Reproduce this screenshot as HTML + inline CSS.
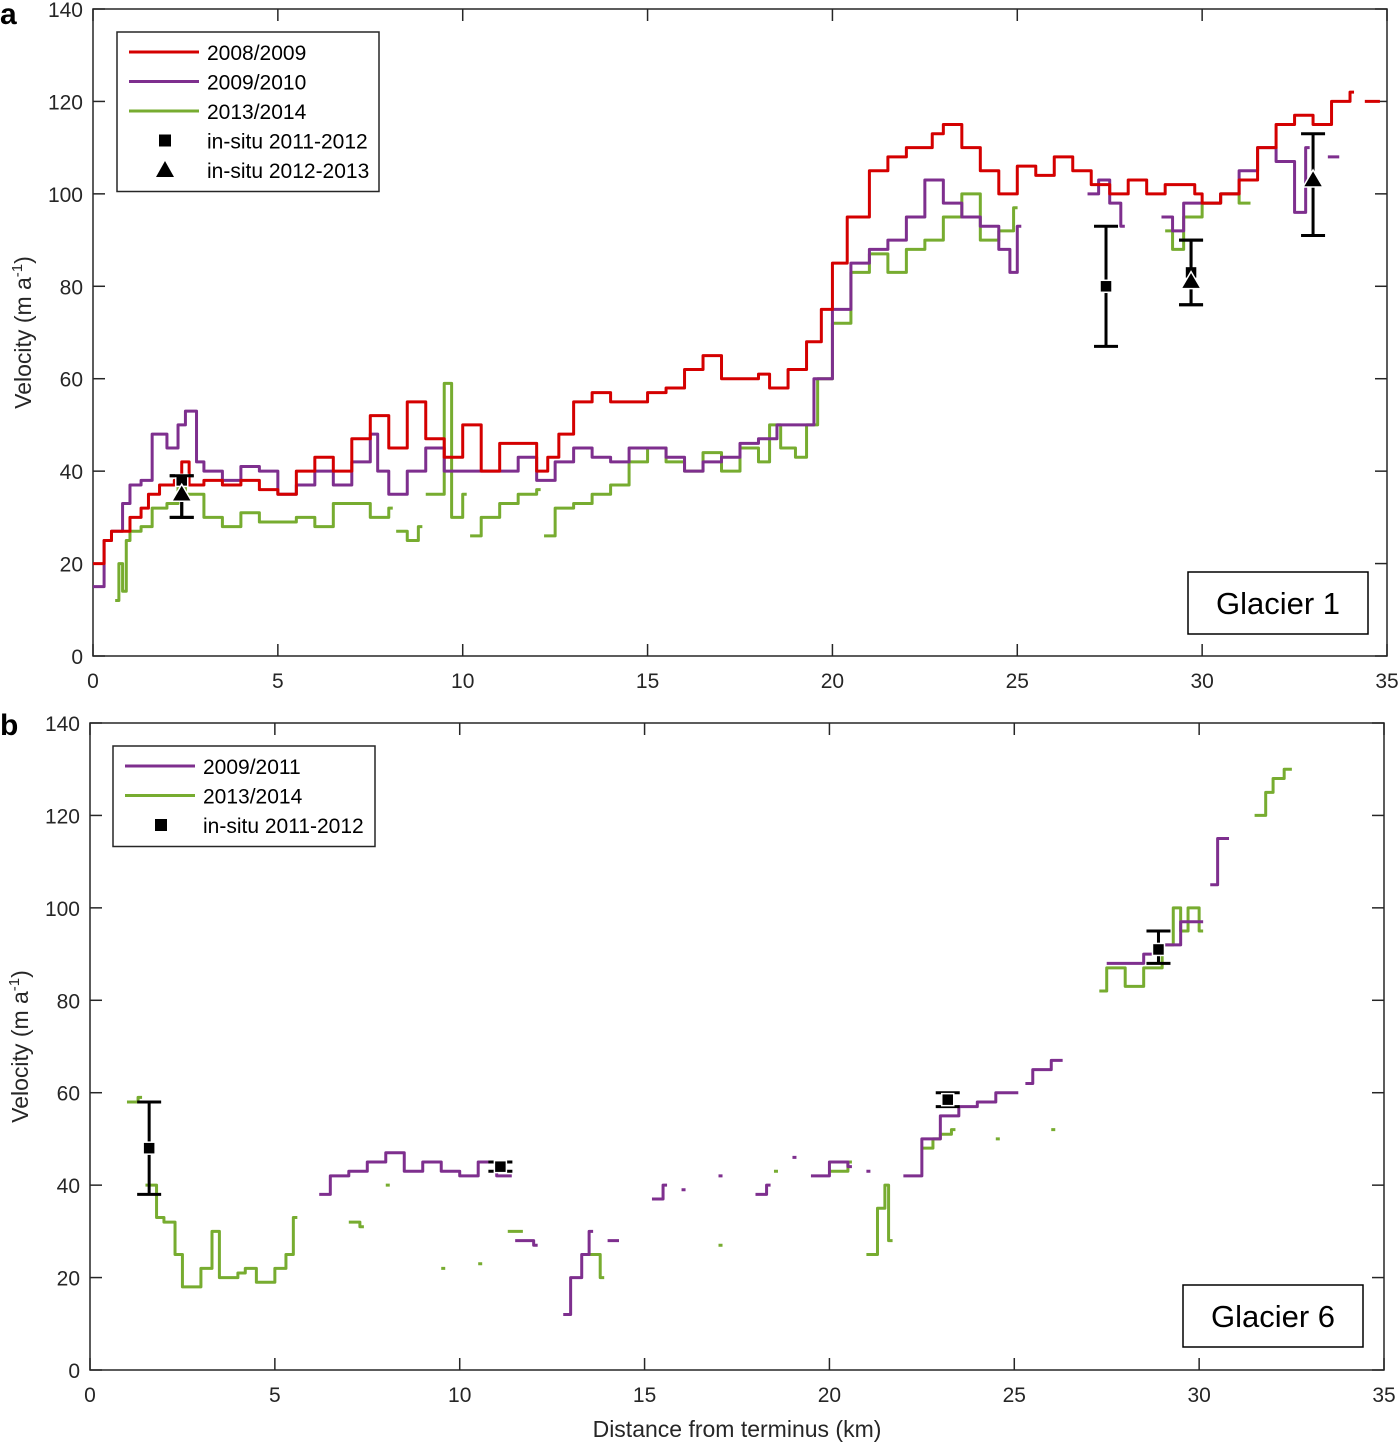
<!DOCTYPE html>
<html><head><meta charset="utf-8">
<style>
body{margin:0;background:#fff;}
svg{display:block;font-family:"Liberation Sans",Arial,sans-serif;}
</style></head>
<body>
<svg id="chart" width="1400" height="1444" viewBox="0 0 1400 1444" xmlns="http://www.w3.org/2000/svg"></svg>
<script>
// ---- Panel a data ----
const aRed_x=[0,0.3,0.5,0.8,1,1.3,1.5,1.8,2,2.2,2.4,2.6,3,3.5,4,4.5,5,5.5,6,6.5,7,7.5,8,8.5,9,9.5,10,10.5,11,11.8,12,12.3,12.6,13,13.5,14,15,15.5,16,16.5,17,18,18.3,18.8,19.3,19.7,20,20.4,21,21.5,22,22.7,23,23.5,24,24.5,25,25.5,26,26.5,27,27.5,28,28.5,29,29.8,30,30.5,31,31.5,32,32.5,33,33.5,34,34.1,34.4,34.7];
const aRed_y=[20,25,27,27,30,32,35,37,37,38,42,37,38,37,38,36,35,40,43,40,47,52,45,55,47,43,50,40,46,46,40,43,48,55,57,55,57,58,62,65,60,61,58,62,68,75,85,95,105,108,110,113,115,110,105,100,106,104,108,105,102,100,103,100,102,100,98,100,103,110,115,117,115,120,122,null,120,120];
const aPur_x=[0,0.3,0.5,0.8,1,1.3,1.6,2,2.3,2.5,2.8,3,3.5,4,4.5,5,5.5,6,6.5,7,7.5,7.7,8,8.5,9,9.5,10,11,11.5,12,12.5,13,13.5,14,14.5,15,15.5,16,16.5,17,17.5,18,18.5,19,19.5,20,20.5,21,21.5,22,22.5,23,23.5,24,24.5,24.8,25,25.2,26.9,27.2,27.5,27.8,28,28.9,29.2,29.5,30,30.5,31,31.5,32,32.5,32.8,33.2,33.4,33.6];
const aPur_y=[15,25,27,33,37,38,48,45,50,53,42,40,38,41,40,35,37,40,37,42,48,40,35,40,45,40,40,40,43,38,42,45,43,42,45,45,43,40,42,43,46,47,50,50,60,75,85,88,90,95,103,98,95,93,88,83,93,null,100,103,98,93,null,95,92,98,98,100,105,110,107,96,110,null,108,108];
const aGrn_x=[0.6,0.7,0.8,0.9,1,1.3,1.6,2,2.3,2.5,3,3.5,4,4.5,5,5.5,6,6.5,7,7.5,8,8.1,8.2,8.5,8.8,8.9,9,9.5,9.7,10,10.1,10.2,10.5,11,11.5,12,12.1,12.2,12.5,13,13.5,14,14.5,15,15.5,16,16.5,17,17.5,18,18.3,18.6,19,19.3,19.6,20,20.5,21,21.5,22,22.5,23,23.5,24,24.5,24.9,25.1,29.0,29.2,29.5,30,30.5,31,31.2];
const aGrn_y=[12,20,14,25,27,28,32,33,38,35,30,28,31,29,29,30,28,33,33,30,32,null,27,25,28,null,35,59,30,35,null,26,30,33,35,36,null,26,32,33,35,37,42,45,42,40,44,40,45,42,50,45,43,50,60,72,83,87,83,88,90,95,100,90,92,97,null,92,88,95,98,100,98,98];
// in-situ panel a
const aSq_x=[2.4,27.4,29.7];
const aSq_y=[38,80,83];
const aSq_lo=[30,67,76];
const aSq_hi=[39,93,90];
const aTri_x=[2.4,29.7,33];
const aTri_y=[35,81,103];
const aTri_lo=[30,76,91];
const aTri_hi=[39,90,113];
// ---- Panel b data ----
const bPur_x=[6.2,6.5,7,7.5,8,8.5,9,9.5,10,10.5,11,11.3,11.4,11.5,12,12.3,12.8,13,13.3,13.5,13.7,14,14.2,14.3,15.2,15.5,15.8,16,16.2,17,17.2,18,18.3,18.4,19,19.1,19.5,20,20.5,20.7,21,21.2,22,22.5,23,23.5,24,24.5,25,25.2,25.3,25.5,26,26.2,26.3,27.5,28,28.5,29,29.5,30,30.2,30.3,30.5,30.7];
const bPur_y=[38,42,43,45,47,43,45,43,42,45,42,42,null,28,27,null,12,20,25,30,null,28,28,null,37,40,null,39,null,42,null,38,40,null,46,null,42,45,44,null,43,null,42,50,55,57,58,60,60,null,62,65,67,67,null,88,88,90,92,97,97,null,105,115,115];
const bGrn_x=[1,1.3,1.4,1.5,1.8,2,2.3,2.5,3,3.3,3.5,4,4.2,4.5,5,5.3,5.5,5.6,7,7.3,7.4,8,8.2,9.5,9.7,10.5,10.7,11.3,11.6,11.7,13.5,13.8,13.9,17,17.2,18.5,18.7,20,20.5,20.6,21,21.3,21.5,21.6,21.7,22.5,22.8,23,23.3,23.5,24.5,24.6,26,26.1,27.3,27.5,28,28.5,29,29.3,29.5,29.7,30,30.2,31.5,31.8,32,32.3,32.4];
const bGrn_y=[58,59,null,40,33,32,25,18,22,30,20,21,22,19,22,25,33,null,32,31,null,40,null,22,null,23,null,30,30,null,25,20,null,27,null,43,null,43,45,null,25,35,40,28,null,48,50,51,52,null,50,null,52,null,82,87,83,87,92,100,95,100,95,null,120,125,128,130,130];
const bSq_x=[1.6,11.1,23.2,28.9];
const bSq_y=[48,44,58.5,91];
const bSq_lo=[38,43,57,88];
const bSq_hi=[58,45,60,95];

const NS="http://www.w3.org/2000/svg";
const svg=document.getElementById('chart');
function el(tag,attrs,parent){const e=document.createElementNS(NS,tag);for(const k in attrs)e.setAttribute(k,attrs[k]);(parent||svg).appendChild(e);return e;}

function panel(P,name){
  const g=el('g',{});
  
  
  const sx=v=>P.x0+(v/35)*(P.x1-P.x0);
  const sy=v=>P.y0-(v/140)*(P.y0-P.y1);
  P.sx=sx;P.sy=sy;P.g=g;
  const box=el('rect',{x:P.x0,y:P.y1,width:P.x1-P.x0,height:P.y0-P.y1,fill:'none',stroke:'#262626','stroke-width':1.5},g);
  
  
  for(let v=0;v<=35;v+=5){
    const x=sx(v);
    el('line',{x1:x,x2:x,y1:P.y0,y2:P.y0-12,stroke:'#262626','stroke-width':1.5},g);
    el('line',{x1:x,x2:x,y1:P.y1,y2:P.y1+12,stroke:'#262626','stroke-width':1.5},g);
    const t=el('text',{x:x,y:P.y0+32,'text-anchor':'middle','font-size':21,fill:'#262626'},g);t.textContent=v;
    
    
  }
  for(let v=0;v<=140;v+=20){
    const y=sy(v);
    el('line',{x1:P.x0,x2:P.x0+12,y1:y,y2:y,stroke:'#262626','stroke-width':1.5},g);
    el('line',{x1:P.x1,x2:P.x1-12,y1:y,y2:y,stroke:'#262626','stroke-width':1.5},g);
    const t=el('text',{x:P.x0-10,y:y+8,'text-anchor':'end','font-size':21,fill:'#262626'},g);t.textContent=v;
    
    
  }
  const yt=el('text',{x:0,y:0,transform:`translate(${P.x0-62},${(P.y0+P.y1)/2}) rotate(-90)`,'text-anchor':'middle','font-size':23,fill:'#262626'},g);
  yt.innerHTML='Velocity (m a<tspan dy="-9" font-size="15">-1</tspan><tspan dy="9">)</tspan>';
  
  
  return P;
}
function stepLine(P,xs,ys,color,name){
  let d='',pen=false;
  for(let i=0;i<xs.length;i++){
    if(ys[i]===null){pen=false;continue;}
    const x=P.sx(xs[i]),y=P.sy(ys[i]);
    if(!pen){d+=`M${x},${y}`;pen=true;}
    else d+=`V${y}`;
    const nx=(i+1<xs.length&&ys[i+1]!==null)?P.sx(xs[i+1]):x+4;
    d+=`H${nx}`;
  }
  const p=el('path',{d:d,fill:'none',stroke:color,'stroke-width':3,'stroke-linejoin':'round'},P.g);
  
  
}
function errMarks(P,xs,ys,lo,hi,shape,name){
  for(let i=0;i<xs.length;i++){
    const x=P.sx(xs[i]);
    const e=el('path',{d:`M${x},${P.sy(lo[i])}V${P.sy(hi[i])}M${x-12},${P.sy(lo[i])}H${x+12}M${x-12},${P.sy(hi[i])}H${x+12}`,stroke:'#000','stroke-width':3,fill:'none'},P.g);
    
    
    const y=P.sy(ys[i]);
    let m;
    if(shape==='sq') m=el('rect',{x:x-6,y:y-6,width:12,height:12,fill:'#000',stroke:'#fff','stroke-width':1.5},P.g);
    else m=el('path',{d:`M${x},${y-10}L${x+10},${y+7}L${x-10},${y+7}Z`,fill:'#000',stroke:'#fff','stroke-width':1.5},P.g);
    
    
  }
}
function legend(P,x,y,w,items,name){
  const lg=el('g',{},P.g);
  
  
  el('rect',{x:x,y:y,width:w,height:items.length*29.5+12,fill:'#fff',stroke:'#262626','stroke-width':1.5},lg);
  items.forEach((it,i)=>{
    const cy=y+20+i*29.5;
    if(it.t==='line') el('line',{x1:x+12,x2:x+82,y1:cy,y2:cy,stroke:it.c,'stroke-width':3},lg);
    else if(it.t==='sq') el('rect',{x:x+42,y:cy-6,width:12,height:12,fill:'#000'},lg);
    else el('path',{d:`M${x+48},${cy-9}L${x+57},${cy+7}L${x+39},${cy+7}Z`,fill:'#000'},lg);
    const t=el('text',{x:x+90,y:cy+8,'font-size':21,fill:'#000'},lg);t.textContent=it.l;
    
    
  });
}
function tag(P,x,y,w,h,txt,name){
  const r=el('rect',{x:x,y:y,width:w,height:h,fill:'#fff',stroke:'#000','stroke-width':1.5},P.g);
  
  
  const t=el('text',{x:x+w/2,y:y+h/2+11,'text-anchor':'middle','font-size':31,fill:'#000'},P.g);t.textContent=txt;
  
  
}

const A=panel({x0:93,x1:1387,y0:656,y1:9},'panel-a');
stepLine(A,aGrn_x,aGrn_y,'#77ac30','series-2013-2014-a');
stepLine(A,aPur_x,aPur_y,'#7e2f8e','series-2009-2010-a');
stepLine(A,aRed_x,aRed_y,'#d40000','series-2008-2009-a');
errMarks(A,aSq_x,aSq_y,aSq_lo,aSq_hi,'sq','insitu-2011-2012-a');
errMarks(A,aTri_x,aTri_y,aTri_lo,aTri_hi,'tri','insitu-2012-2013-a');
legend(A,117,32,262,[{t:'line',c:'#d40000',l:'2008/2009'},{t:'line',c:'#7e2f8e',l:'2009/2010'},{t:'line',c:'#77ac30',l:'2013/2014'},{t:'sq',l:'in-situ 2011-2012'},{t:'tri',l:'in-situ 2012-2013'}],'legend-a');
tag(A,1188,572,180,62,'Glacier 1','glacier-1-box');

const B=panel({x0:90,x1:1384,y0:1370,y1:723},'panel-b');
stepLine(B,bGrn_x,bGrn_y,'#77ac30','series-2013-2014-b');
stepLine(B,bPur_x,bPur_y,'#7e2f8e','series-2009-2011-b');
errMarks(B,bSq_x,bSq_y,bSq_lo,bSq_hi,'sq','insitu-2011-2012-b');
legend(B,113,746,262,[{t:'line',c:'#7e2f8e',l:'2009/2011'},{t:'line',c:'#77ac30',l:'2013/2014'},{t:'sq',l:'in-situ 2011-2012'}],'legend-b');
tag(B,1183,1285,180,62,'Glacier 6','glacier-6-box');

const xt=el('text',{x:737,y:1437,'text-anchor':'middle','font-size':23,fill:'#262626'});xt.textContent='Distance from terminus (km)';


const la=el('text',{x:0,y:24,'font-size':30,'font-weight':'bold',fill:'#000'});la.textContent='a';


const lb=el('text',{x:0,y:735,'font-size':30,'font-weight':'bold',fill:'#000'});lb.textContent='b';


</script>
</body></html>
